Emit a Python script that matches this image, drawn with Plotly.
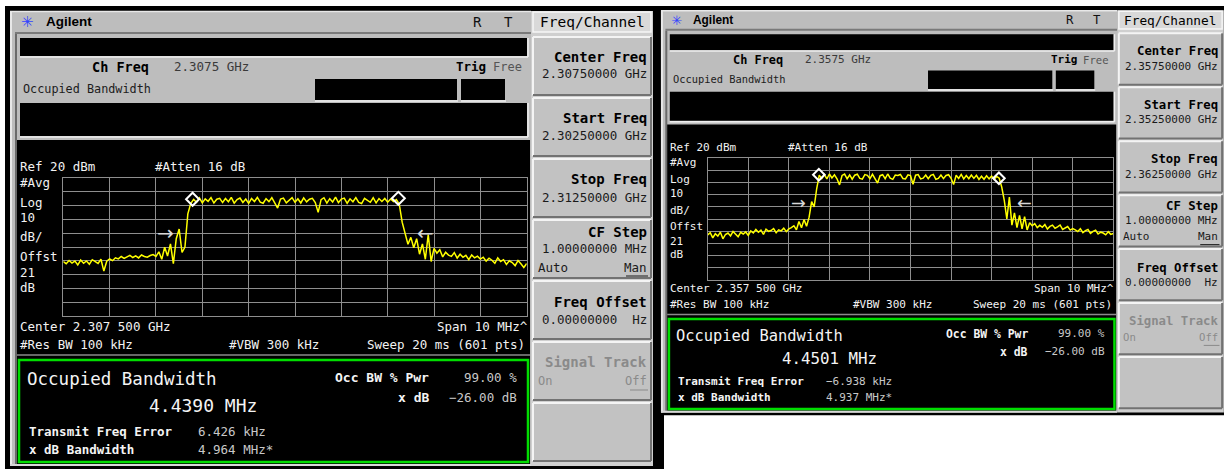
import numpy as np
import plotly.graph_objects as go

W, H = 1224, 469
MONO = "DejaVu Sans Mono"
SANS = "Liberation Sans"

# ---------------- data ----------------
ref_level_dbm = 20
db_per_div = 10
span_mhz = 10
left_center_mhz = 2307.5
right_center_mhz = 2357.5

left_trace_dbm = [
    -40.5, -42.1, -39.8, -41.6, -40.2, -43.0, -39.5, -41.8, -40.1, -42.5, -39.2, -40.8, -41.9, -38.9, -47.5, -40.3,
    -38.7, -39.9, -37.8, -38.6, -36.9, -38.2, -37.1, -36.0, -37.6, -36.4, -37.9, -35.8, -36.9, -37.4, -36.2, -35.5, -36.8,
    -33.5, -38.9, -30.2, -36.5, -27.8, -42.0, -24.0, -17.0, -34.0, -30.0, -6.0, 1.5,
    4.5,
    2.4, 5.6, 2.0, 4.9, 3.1, 5.8, 1.9, 4.6, 5.3, 2.2,
    5.1, 2.8, 6.0, 1.8, 4.4, 5.5, 2.3, 4.8, 1.6, 5.2,
    3.0, 5.9, 2.5, 1.7, 5.0, 2.9, 5.7, 2.1, -1.8, 4.7,
    5.4, 2.0, 3.6, 5.8, 2.4, 4.9, 1.9, 5.6, 2.7, 4.6,
    5.3, 2.2, -4.9, 4.3, 5.7, 1.8, 5.0, 2.6, 6.1, 2.1,
    4.7, 5.4, 1.7, 4.9, 2.8, 5.8, 2.3, 1.5, 5.3, 4.1,
    2.4, 5.7, 2.0, 5.1, 3.0, 5.2, 2.5, 4.8, 2.9, 4.3,
    1.0, -12.0, -20.0, -28.0, -23.0, -30.5, -24.0, -35.2, -27.8, -38.9, -21.0, -40.5, -31.0,
    -34.5, -32.0, -37.2, -33.8, -35.9, -36.8, -34.1, -38.0,
    -35.2, -37.5, -36.0, -39.1, -35.8, -37.9, -36.6, -38.8,
    -37.4, -40.2, -38.1, -39.6, -41.8, -37.9, -40.5, -39.2,
    -42.6, -40.0, -41.3, -43.5, -39.8, -42.2, -44.9, -42.0,
]

right_trace_dbm = [
    -43.0, -41.2, -45.5, -42.1, -44.0, -40.8, -46.2, -42.7, -41.5, -43.9, -40.2, -42.8, -44.6, -41.0, -42.3, -40.6, -43.4,
    -39.8, -41.5, -38.6, -40.9, -39.2, -42.7, -38.4, -40.1, -39.5, -37.8, -41.2, -38.9, -39.7, -37.5, -40.4, -38.1, -37.0,
    -35.5, -38.8, -32.0, -37.2, -30.5, -36.0, -28.5, -15.8, -20.0, -5.0,
    6.0,
    3.2, 6.5, 2.8, 6.9, 3.6, 6.2, 3.0, -2.0, 5.7, 6.8,
    3.0, 6.1, 2.6, 5.9, 6.7, 3.3, 2.7, 6.4, 5.8, 3.1,
    6.6, 2.9, -0.5, 5.5, 6.3, 3.0, 6.9, 3.4, 2.5, 6.0,
    5.7, 6.5, 3.2, 2.8, 6.2, 5.6, -1.5, 5.9, 6.4, 2.9,
    3.5, 6.1, 3.0, 5.8, 6.6, 2.6, 3.3, 6.0, 3.1, 5.7,
    6.3, 3.4, -1.8, 5.9, 3.2, 6.5, 2.9, 5.6, 3.0, 6.1,
    3.3, 5.8, 2.5, 5.1, 2.6, 5.4, 2.9, 5.2, 2.5, 4.9, 3.4,
    -4.0, -15.0, -30.0, -12.0, -35.0, -25.0, -37.0, -27.0, -38.0, -28.0, -39.0, -33.0,
    -35.5, -33.8, -37.0, -35.2, -36.8, -34.6, -38.2, -36.1, -35.0, -37.6, -36.4, -34.9, -38.5, -37.0, -36.2, -39.1,
    -37.8, -38.9, -40.3, -38.0, -41.2, -39.5, -38.6, -41.8, -40.1, -39.2, -42.3, -40.8, -41.5, -43.0, -40.4, -42.6, -41.9,
]

left_marker_mhz = [2305.29, 2309.73]
left_marker_dbm = [4.6, 5.3]
right_marker_mhz = [2355.24, 2359.68]
right_marker_dbm = [6.3, 3.4]

left_arrow_mhz = [2304.70, 2310.32]
left_arrow_dbm = [-19.6, -19.6]
right_arrow_mhz = [2354.73, 2360.31]
right_arrow_dbm = [-17.0, -17.0]

left_text = dict(ch_freq="2.3075 GHz", center_key="2.30750000 GHz", start_key="2.30250000 GHz",
                 stop_key="2.31250000 GHz", center_txt="Center 2.307 500 GHz",
                 obw="4.4390 MHz", tfe="6.426 kHz", xdb_bw="4.964 MHz*")
right_text = dict(ch_freq="2.3575 GHz", center_key="2.35750000 GHz", start_key="2.35250000 GHz",
                  stop_key="2.36250000 GHz", center_txt="Center 2.357 500 GHz",
                  obw="4.4501 MHz", tfe="\u22126.938 kHz", xdb_bw="4.937 MHz*")

# ---------------- drawing helpers ----------------
shapes, annotations = [], []
domains = []


def build_screen(ox, oy, kx, ky, fs, t):
    X = lambda x: ox + (x - 63.3) * kx
    Y = lambda y: oy + (y - 178.0) * ky

    def fx(x):
        return max(0.0, min(X(x), W)) / W

    def fy(y):
        return 1 - max(0.0, min(Y(y), H)) / H

    def rect(x0, y0, x1, y1, fill, line=None, lw=0):
        shapes.append(dict(type="rect", xref="paper", yref="paper", x0=fx(x0), x1=fx(x1),
                           y0=fy(y1), y1=fy(y0), fillcolor=fill,
                           line=dict(color=line or fill, width=lw), layer="below"))

    def seg(x0, y0, x1, y1, color, lw=1.0):
        shapes.append(dict(type="line", xref="paper", yref="paper", x0=fx(x0), x1=fx(x1),
                           y0=fy(y0), y1=fy(y1), line=dict(color=color, width=lw), layer="below"))

    def txt(x, y, s, size, color="#f2f2f2", anchor="left", bold=False, family=MONO):
        annotations.append(dict(xref="paper", yref="paper", x=fx(x), y=fy(y),
                                text=(f"<b>{s}</b>" if bold else s), showarrow=False,
                                xanchor=anchor, yanchor="middle", borderpad=0,
                                font=dict(family=family, size=round(size * fs, 1), color=color)))

    # frame
    rect(5, 6, 664, 469, "#000000")
    rect(10, 11, 531, 466, "#bdbdbd")
    seg(10, 11.5, 531, 11.5, "#e8e8e8", 1.5)
    seg(11, 11, 11, 466, "#e8e8e8", 2)
    seg(15, 33, 531, 33, "#7a7a7a", 2)
    seg(16, 34, 16, 466, "#6a6a6a", 2)

    # title bar
    txt(28, 22, "\u2733", 15, "#3344ff", "center", family="DejaVu Sans")
    txt(45, 22, "Agilent", 13.5, "#000000", bold=True, family=SANS)
    txt(477, 22, "R", 14, "#111111", "center")
    txt(508, 22, "T", 14, "#111111", "center")

    # softkey column
    rect(531, 11, 653, 466, "#cfcfcf")
    rect(533, 12, 651, 32, "#d9d9d9", "#f6f6f6", 1.5)
    txt(592, 22, "Freq/Channel", 14.5, "#000000", "center")

    # header panel
    rect(20, 38, 527, 56, "#000000")
    seg(20, 57, 528, 57, "#efefef", 1.5)
    seg(528, 38, 528, 57, "#efefef", 1.5)
    txt(150, 67, "Ch Freq", 13.5, "#000000", "right", bold=True)
    txt(173, 67, t["ch_freq"], 12.5, "#3a3a3a")
    txt(487, 67, "Trig", 12.5, "#000000", "right", bold=True)
    txt(523, 67, "Free", 12, "#555555", "right")
    txt(22, 89, "Occupied Bandwidth", 11.8, "#1c1c1c")
    rect(315, 79, 457, 100, "#000000")
    seg(315, 101, 458, 101, "#efefef", 1.5)
    rect(461, 79, 505, 100, "#000000")
    seg(461, 101, 506, 101, "#efefef", 1.5)
    rect(20, 103, 527, 136, "#000000")
    seg(20, 137, 528, 137, "#efefef", 1.5)
    seg(528, 103, 528, 137, "#efefef", 1.5)

    # display area
    rect(17, 140, 530, 464, "#000000")
    seg(17, 355, 530, 355, "#8a8a8a", 1.5)
    seg(10, 465, 531, 465, "#d8d8d8", 2)

    txt(19, 166, "Ref 20 dBm", 12.5)
    txt(154, 166, "#Atten 16 dB", 12.5)
    for label, yy in [("#Avg", 183), ("Log", 202), ("10", 218), ("dB/", 237),
                      ("Offst", 256), ("21", 272), ("dB", 287)]:
        txt(19, yy, label, 12.5)
    txt(19, 326, t["center_txt"], 12.5)
    txt(529, 326, "Span 10 MHz^", 12.5, anchor="right")
    txt(19, 344, "#Res BW 100 kHz", 12.5)
    txt(228, 344, "#VBW 300 kHz", 12.5)
    txt(526, 344, "Sweep 20 ms (601 pts)", 12.5, anchor="right")

    # result box
    rect(19, 360, 528, 462, "#000000", "#00dd00", 2.5)
    txt(26, 379, "Occupied Bandwidth", 17.5, "#f4f4f4")
    txt(203, 405, t["obw"], 18, "#f4f4f4", "center")
    txt(430, 377, "Occ BW % Pwr", 13, "#f4f4f4", "right", bold=True)
    txt(518, 377, "99.00 %", 12.5, "#c8c8c8", "right")
    txt(430, 397, "x dB", 13, "#f4f4f4", "right", bold=True)
    txt(518, 397, "\u221226.00 dB", 12.5, "#c8c8c8", "right")
    txt(28, 431, "Transmit Freq Error", 12.5, "#f4f4f4", bold=True)
    txt(197, 431, t["tfe"], 12.5, "#c8c8c8")
    txt(28, 449, "x dB Bandwidth", 12.5, "#f4f4f4", bold=True)
    txt(197, 449, t["xdb_bw"], 12.5, "#c8c8c8")

    # softkeys
    for (y0, y1) in [(37, 95), (98, 156), (159, 217), (220, 278), (281, 339), (342, 400), (403, 461)]:
        rect(533, y0, 651, y1, "#c2c2c2")
        seg(533, y0, 651, y0, "#f4f4f4", 2)
        seg(533, y0, 533, y1, "#f4f4f4", 2)
        seg(533, y1, 651, y1, "#727272", 2)
        seg(651, y0, 651, y1, "#727272", 2)
    keys = [("Center Freq", 57, t["center_key"], 74),
            ("Start Freq", 118, t["start_key"], 135),
            ("Stop Freq", 179, t["stop_key"], 197),
            ("CF Step", 232, "1.00000000 MHz", 249),
            ("Freq Offset", 302, "0.00000000  Hz", 319)]
    for title, ty, val, vy in keys:
        txt(648, ty, title, 14, "#000000", "right", bold=True)
        txt(648, vy, val, 12.5, "#1a1a1a", "right")
    txt(537, 267, "Auto", 12.5, "#1a1a1a")
    txt(648, 267, "Man", 12.5, "#1a1a1a", "right")
    seg(626, 276, 648, 276, "#1a1a1a", 1)
    txt(648, 362, "Signal Track", 14, "#8a8a8a", "right", bold=True)
    txt(537, 381, "On", 12, "#8a8a8a")
    txt(648, 381, "Off", 12, "#8a8a8a", "right")
    seg(630, 390, 648, 390, "#8a8a8a", 1)

    domains.append(([X(63.3) / W, X(526.7) / W], [1 - Y(316) / H, 1 - Y(178) / H]))


build_screen(63.3, 178.0, 1.0, 1.0, 1.0, left_text)
build_screen(707.7, 158.0, 0.8753, 0.884, 0.88, right_text)

fig = go.Figure()

screens = [
    (left_center_mhz, left_trace_dbm, left_marker_mhz, left_marker_dbm, left_arrow_mhz, left_arrow_dbm, "x", "y", 1.0),
    (right_center_mhz, right_trace_dbm, right_marker_mhz, right_marker_dbm, right_arrow_mhz, right_arrow_dbm, "x2", "y2", 0.88),
]
for center, trace, mk_f, mk_l, ar_f, ar_l, xa, ya, fs in screens:
    freq = np.linspace(center - span_mhz / 2, center + span_mhz / 2, len(trace))
    fig.add_trace(go.Scatter(x=freq, y=trace, mode="lines", xaxis=xa, yaxis=ya,
                             line=dict(color="#ffff00", width=1.5), hoverinfo="skip"))
    fig.add_trace(go.Scatter(x=mk_f, y=mk_l, mode="markers", xaxis=xa, yaxis=ya,
                             marker=dict(symbol="diamond-open", size=9 * fs + 1, color="#ffffff",
                                         line=dict(width=2, color="#ffffff")), hoverinfo="skip"))
    for f, l, s in zip(ar_f, ar_l, ["\u2192", "\u2190"]):
        annotations.append(dict(xref=xa, yref=ya, x=f, y=l, text=s, showarrow=False,
                                xanchor="center", yanchor="middle",
                                font=dict(family="DejaVu Sans", size=20 * fs, color="#d8d8d8")))

axis_common = dict(showgrid=True, gridcolor="#8e8e8e", gridwidth=1, showticklabels=False, ticks="",
                   zeroline=False, showline=True, linecolor="#8e8e8e", linewidth=1, mirror=True,
                   fixedrange=True)

layout = dict(width=W, height=H, margin=dict(l=0, r=0, t=0, b=0), autosize=False,
              paper_bgcolor="#ffffff", plot_bgcolor="#000000", showlegend=False,
              shapes=shapes, annotations=annotations)
for k, (center, xa, ya) in enumerate([(left_center_mhz, "xaxis", "yaxis"), (right_center_mhz, "xaxis2", "yaxis2")]):
    xd, yd = domains[k]
    layout[xa] = dict(axis_common, domain=xd, range=[center - span_mhz / 2, center + span_mhz / 2],
                      dtick=1, tick0=center - span_mhz / 2, anchor="y" if k == 0 else "y2")
    layout[ya] = dict(axis_common, domain=yd, range=[ref_level_dbm - 10 * db_per_div, ref_level_dbm],
                      dtick=db_per_div, tick0=ref_level_dbm, anchor="x" if k == 0 else "x2")
fig.update_layout(**layout)

fig.write_html("out.html", config={"displayModeBar": False},
               post_script="document.body.style.margin='0';document.body.style.overflow='hidden';")
